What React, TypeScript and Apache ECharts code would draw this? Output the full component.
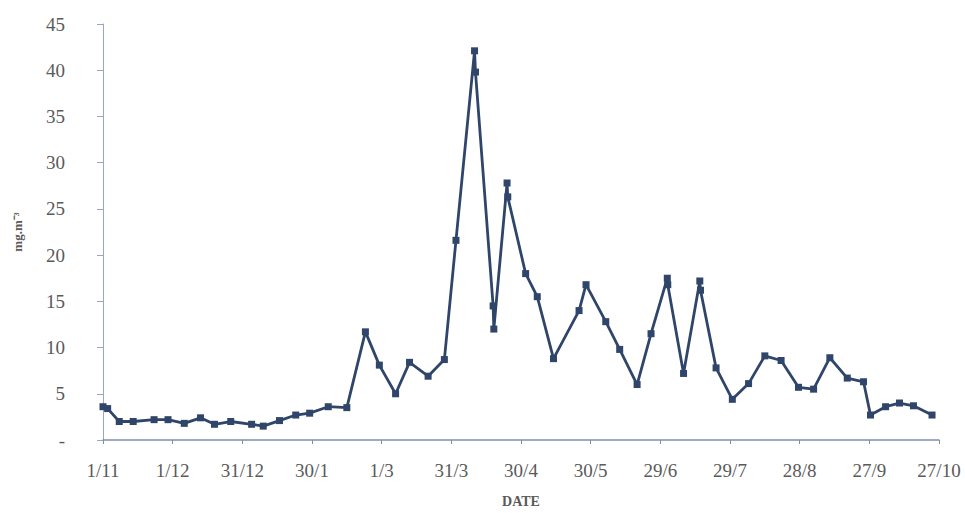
import React, { useEffect, useRef } from "react";
import * as echarts from "echarts";

const tickLabels = ["1/11", "1/12", "31/12", "30/1", "1/3", "31/3", "30/4", "30/5", "29/6", "29/7", "28/8", "27/9", "27/10"];
const days = [0, 2, 7, 13, 22, 28, 35, 42, 48, 55, 64, 69, 76, 83, 89, 97, 105, 113, 119, 126, 132, 140, 147, 152, 160, 160.4, 168, 168.3, 174, 174.3, 182, 187, 194, 205, 208, 216.5, 222.5, 230, 236, 243, 243.2, 250, 257, 257.3, 264, 271, 278, 285, 292, 299.5, 306, 313, 320.5, 327.5, 330.5, 337, 343, 349, 357];
const values = [3.6, 3.4, 2.0, 2.0, 2.2, 2.2, 1.8, 2.4, 1.7, 2.0, 1.7, 1.5, 2.1, 2.7, 2.9, 3.6, 3.5, 11.7, 8.1, 5.0, 8.4, 6.9, 8.7, 21.6, 42.1, 39.8, 14.5, 12.0, 27.8, 26.3, 18.0, 15.5, 8.8, 14.0, 16.8, 12.8, 9.8, 6.0, 11.5, 17.5, 16.8, 7.2, 17.2, 16.2, 7.8, 4.4, 6.1, 9.1, 8.6, 5.7, 5.5, 8.9, 6.7, 6.3, 2.7, 3.6, 4.0, 3.7, 2.7];

export default function App() {
  const ref = useRef<HTMLDivElement>(null);
  useEffect(() => {
    const chart = echarts.init(ref.current!, null, { renderer: "svg" });
    const textColor = "#5a5a5a";
    const font = "'Liberation Serif', 'Times New Roman', serif";
    chart.setOption({
      animation: false,
      backgroundColor: "#ffffff",
      grid: { left: 103, right: 26, top: 24, bottom: 63, containLabel: false },
      xAxis: {
        type: "value",
        min: 0,
        max: 360,
        interval: 30,
        name: "DATE",
        nameLocation: "middle",
        nameGap: 54,
        nameTextStyle: { fontFamily: font, fontSize: 14, fontWeight: "bold", color: textColor },
        axisLine: { show: true, lineStyle: { color: "#7f8fae", width: 1.5 } },
        axisTick: { show: true, length: 4, lineStyle: { color: "#7f8fae" } },
        splitLine: { show: false },
        axisLabel: {
          margin: 21,
          fontFamily: font,
          fontSize: 19,
          color: textColor,
          formatter: (v: number) => tickLabels[Math.round(v / 30)] ?? "",
        },
      },
      yAxis: {
        type: "value",
        min: 0,
        max: 45,
        interval: 5,
        name: "mg.m⁻³",
        nameLocation: "middle",
        nameGap: 79,
        nameRotate: 90,
        nameTextStyle: { fontFamily: font, fontSize: 13, fontWeight: "bold", color: textColor },
        axisLine: { show: true, lineStyle: { color: "#9aa6bf", width: 1 } },
        axisTick: { show: true, length: 6, lineStyle: { color: "#9aa6bf" } },
        splitLine: { show: false },
        axisLabel: {
          margin: 38,
          fontFamily: font,
          fontSize: 19,
          color: textColor,
          formatter: (v: number) => (v === 0 ? "-" : String(v)),
        },
      },
      series: [
        {
          type: "line",
          data: days.map((d, i) => [d, values[i]]),
          symbol: "rect",
          symbolSize: 7,
          lineStyle: { color: "#30456a", width: 2.8 },
          itemStyle: { color: "#30456a" },
        },
      ],
    });
    return () => chart.dispose();
  }, []);
  return <div ref={ref} style={{ width: 965, height: 513, position: "absolute", left: 0, top: 0 }} />;
}
